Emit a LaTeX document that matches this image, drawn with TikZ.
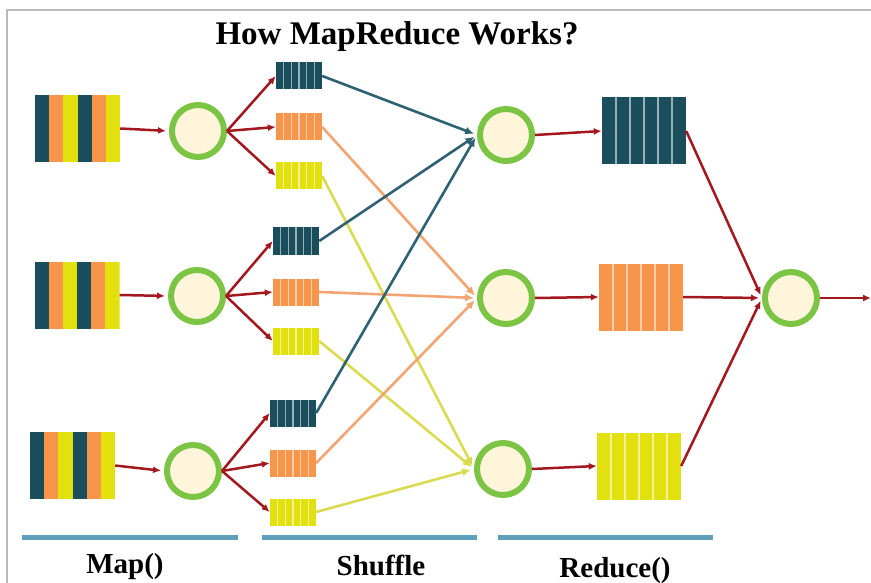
\documentclass[tikz,border=0pt]{standalone}
\usepackage{fontspec}
\setmainfont{Liberation Serif}
\usepackage{tikz}
\usetikzlibrary{arrows.meta,calc,positioning}
\definecolor{qteal}{HTML}{1A4E5C}
\definecolor{qorange}{HTML}{F7954B}
\definecolor{qyellow}{HTML}{E2E00F}
\definecolor{arrred}{HTML}{A3171F}
\definecolor{ringgreen}{HTML}{7CC444}
\definecolor{cream}{HTML}{FFF5DA}
\definecolor{barblue}{HTML}{5E9FBA}
\definecolor{lteal}{HTML}{2E6273}
\definecolor{lorange}{HTML}{F2A472}
\definecolor{lyellow}{HTML}{D9DB52}
\colorlet{framegray}{gray!55}

\begin{document}
\begin{tikzpicture}[x=1pt,y=-1pt,>=Latex,
  inblock/.style={minimum width=85pt,minimum height=67pt,inner sep=0pt,
    path picture={\foreach \c [count=\k from 0] in {qteal,qorange,qyellow,qteal,qorange,qyellow}
      \fill[\c] ($(path picture bounding box.north west)!{\k/6}!(path picture bounding box.north east)$)
        rectangle ($(path picture bounding box.south west)!{(\k+1)/6}!(path picture bounding box.south east)$);}},
  queue/.style={fill=#1,inner sep=0pt,
    path picture={\foreach \k in {1,...,5}
      \draw[white!55!#1,line width=1.4pt] ($(path picture bounding box.north west)!{\k/6}!(path picture bounding box.north east)$)
        -- ($(path picture bounding box.south west)!{\k/6}!(path picture bounding box.south east)$);}},
  smallq/.style={queue=#1,minimum width=46pt,minimum height=27pt},
  bigq/.style={queue=#1,minimum width=84pt,minimum height=67pt},
  ring/.style={circle,draw=ringgreen,line width=6pt,fill=cream,minimum size=52pt,inner sep=0pt},
  redarr/.style={-{Latex[length=8pt,width=7pt]},draw=arrred,line width=2.5pt},
  shuf/.style={-{Latex[length=9pt,width=8pt]},draw=#1,line width=2.6pt,shorten >=3pt},
  toring/.style={shorten >=3pt},
  bar/.style={barblue,line width=5pt},
  lbl/.style={font=\fontsize{29}{32}\selectfont\bfseries,anchor=base}]
\useasboundingbox (0,0) rectangle (871,583);
\draw[framegray,line width=1.5pt] (7,583) -- (7,10) -- (871,10);
\node[anchor=base,font=\fontsize{33}{36}\selectfont\bfseries] (title) at (397,45) {How MapReduce Works?};
% map side: input splits, mappers, partitioned outputs
\foreach \n/\x/\y/\mx/\my in {1/77.5/128.5/198/131, 2/77/295/197/296, 3/72.5/465.5/193/471}{
  \node[inblock] (in\n) at (\x,\y) {};
  \node[ring] (m\n) at (\mx,\my) {};
}
\foreach \n/\x/\ya/\yb/\yc in {1/299/76/127/176, 2/296/241/292/341, 3/293/413/463/512}{
  \node[smallq=qteal] (s\n1) at (\x,\ya) {};
  \node[smallq=qorange] (s\n2) at (\x,\yb) {};
  \node[smallq=qyellow] (s\n3) at (\x,\yc) {};
}
% reduce side
\node[ring] (r1) at (506,135) {};
\node[ring] (r2) at (506,298) {};
\node[ring] (r3) at (503,469) {};
\node[bigq=qteal] (b1) at (644,131) {};
\node[bigq=qorange] (b2) at (641,297) {};
\node[bigq=qyellow] (b3) at (639,466) {};
\node[ring] (f) at (791,298) {};
\coordinate (out) at (871,298);
% shuffle: every partition goes to its reducer
\foreach \n in {1,2,3}{
  \draw[shuf=lteal] (s\n1.east) -- (r1.west);
  \draw[shuf=lorange] (s\n2.east) -- (r2.west);
  \draw[shuf=lyellow] (s\n3.east) -- (r3.west);
}
\foreach \n in {1,2,3}{
  \draw[redarr,toring] (in\n.east) -- (m\n.west);
  \foreach \j in {1,2,3}
    \draw[redarr] (m\n.east) -- (s\n\j.west);
  \draw[redarr] (r\n.east) -- (b\n.west);
  \draw[redarr,toring] (b\n.east) -- (f.west);
}
\draw[redarr] (f.east) -- (out);
% phase bars and names
\draw[bar] (22,537) -- (238,537);
\draw[bar] (262,537) -- (477,537);
\draw[bar] (498,537) -- (713,537);
\node[lbl] (maplbl) at (125,573) {Map()};
\node[lbl] (shuflbl) at (381,575) {Shuffle};
\node[lbl] (redlbl) at (615,577) {Reduce()};
\end{tikzpicture}
\end{document}
